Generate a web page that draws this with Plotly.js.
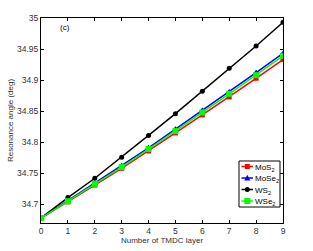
<!DOCTYPE html>
<html><head><meta charset="utf-8">
<script src="https://cdn.plot.ly/plotly-3.0.1.min.js"></script>
<style>body{margin:0;padding:0;background:#fff}#c{width:313px;height:251px}</style>
</head><body><div id="c"></div>
<script>
var layers = [0,1,2,3,4,5,6,7,8,9];
var mos2  = [34.678,34.704,34.731,34.758,34.786,34.815,34.844,34.873,34.903,34.933];
var mose2 = [34.678,34.706,34.734,34.762,34.791,34.821,34.851,34.881,34.912,34.943];
var ws2   = [34.678,34.711,34.742,34.776,34.811,34.846,34.882,34.919,34.955,34.993];
var wse2  = [34.678,34.705,34.733,34.760,34.789,34.818,34.848,34.878,34.908,34.939];
var names = ['MoS<sub>2</sub>','MoSe<sub>2</sub>','WS<sub>2</sub>','WSe<sub>2</sub>'];
var yTicks = [34.7,34.75,34.8,34.85,34.9,34.95,35];
var yTickText = ['34.7','34.75','34.8','34.85','34.9','34.95','35'];

var colors = ['#ff0000','#0000ff','#000000','#00ff00'];
var symbols = ['square','triangle-up','circle','square'];
var sizes = [5,6,5,6];
var series = [mos2, mose2, ws2, wse2];

var data = series.map(function(y,i){
  return {x: layers, y: y, name: names[i], type:'scatter', mode:'lines+markers', showlegend:false,
    line:{color:colors[i], width:1.5}, marker:{color:colors[i], symbol:symbols[i], size:sizes[i]}};
});

// plot area geometry (px)
var W=313, H=251, M={l:41, r:30, t:18, b:28};
var PW=W-M.l-M.r, PH=H-M.t-M.b;
function px(x){return (x-M.l)/PW;}
function py(y){return (H-M.b-y)/PH;}

var shapes = [];
var annotations = [{text:'(c)', xref:'paper', yref:'paper', x:0.07, y:0.985, xanchor:'left', yanchor:'top',
    showarrow:false, font:{family:'Liberation Sans, Arial, sans-serif', size:8, color:'#000'}}];
// custom compact legend
shapes.push({type:'rect', xref:'paper', yref:'paper', x0:px(239), x1:px(280), y0:py(207), y1:py(161),
  line:{color:'#000', width:1}, fillcolor:'#fff', layer:'above'});
var rowY = [166.5, 178, 189.5, 201];
rowY.forEach(function(ry,i){
  shapes.push({type:'line', xref:'paper', yref:'paper', x0:px(241.5), x1:px(253), y0:py(ry), y1:py(ry),
    line:{color:colors[i], width:1.5}, layer:'above'});
  var cx=247.3, s=sizes[i]/2;
  if(symbols[i]==='square'){
    shapes.push({type:'rect', xref:'paper', yref:'paper', x0:px(cx-s), x1:px(cx+s), y0:py(ry+s), y1:py(ry-s),
      line:{width:0}, fillcolor:colors[i], layer:'above'});
  } else if(symbols[i]==='circle'){
    shapes.push({type:'circle', xref:'paper', yref:'paper', x0:px(cx-s), x1:px(cx+s), y0:py(ry+s), y1:py(ry-s),
      line:{width:0}, fillcolor:colors[i], layer:'above'});
  } else {
    var p = 'M '+px(cx-s)+' '+py(ry+s*0.8)+' L '+px(cx+s)+' '+py(ry+s*0.8)+' L '+px(cx)+' '+py(ry-s*1.1)+' Z';
    shapes.push({type:'path', xref:'paper', yref:'paper', path:p, line:{width:0}, fillcolor:colors[i], layer:'above'});
  }
  annotations.push({text:names[i], xref:'paper', yref:'paper', x:px(253.5), y:py(ry+1), xanchor:'left', yanchor:'middle',
    showarrow:false, font:{family:'Liberation Sans, Arial, sans-serif', size:8, color:'#000'}, borderpad:0});
});

var axfont = {family:'Liberation Sans, Arial, sans-serif', size:8, color:'#333'};
var tickfont = {family:'Liberation Sans, Arial, sans-serif', size:8.5, color:'#333'};
var layout = {
  width:W, height:H, margin:M,
  paper_bgcolor:'#fff', plot_bgcolor:'#fff', showlegend:false,
  font: axfont,
  xaxis:{range:[0,9], tickvals:layers, ticks:'inside', ticklen:3, tickcolor:'#000',
    showline:true, linecolor:'#000', linewidth:1, mirror:'ticks', showgrid:false, zeroline:false,
    tickfont:tickfont, title:{text:'Number of TMDC layer', font:axfont, standoff:2}},
  yaxis:{range:[34.67,35], tickvals:yTicks, ticktext:yTickText, ticks:'inside', ticklen:3, tickcolor:'#000',
    showline:true, linecolor:'#000', linewidth:1, mirror:'ticks', showgrid:false, zeroline:false,
    tickfont:tickfont, title:{text:'Resonance angle (deg)', font:axfont, standoff:2}},
  shapes: shapes, annotations: annotations
};
Plotly.newPlot('c', data, layout, {displayModeBar:false, staticPlot:true});
</script></body></html>
